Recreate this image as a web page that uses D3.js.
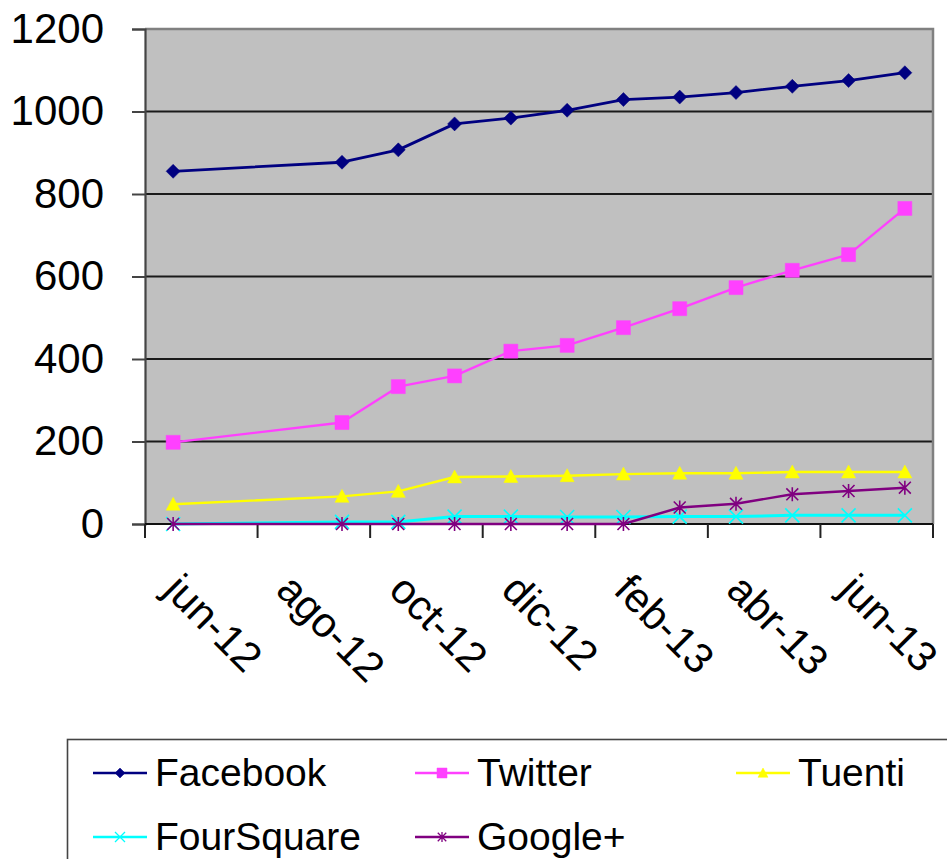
<!DOCTYPE html>
<html>
<head>
<meta charset="utf-8">
<script src="https://cdn.jsdelivr.net/npm/d3@7"></script>
<style>
  html, body { margin: 0; padding: 0; background: #fff; }
  svg { display: block; }
  text { font-family: "Liberation Sans", Arial, sans-serif; fill: #000; }
</style>
</head>
<body>
<svg id="chart" width="947" height="859"></svg>
<script>
// ---- data ----
const months = ["jun-12","jul-12","ago-12","sep-12","oct-12","nov-12","dic-12",
                "ene-13","feb-13","mar-13","abr-13","may-13","jun-13","jul-13"];
const dates = ["jun-12","sep-12","oct-12","nov-12","dic-12","ene-13","feb-13",
               "mar-13","abr-13","may-13","jun-13","jul-13"];
const tickLabels = ["jun-12","ago-12","oct-12","dic-12","feb-13","abr-13","jun-13"];
const yTicks = [0, 200, 400, 600, 800, 1000, 1200];

const facebook   = [855, 877, 907, 970, 984, 1003, 1029, 1035, 1046, 1061, 1075, 1094];
const twitter    = [198, 246, 333, 359, 419, 433, 476, 522, 573, 615, 653, 765];
const tuenti     = [48, 67, 79, 114, 115, 117, 121, 123, 123, 126, 126, 126];
const foursquare = [0, 5, 5, 18, 18, 17, 17, 18, 18, 21, 21, 21];
const googleplus = [0, 0, 0, 0, 0, 0, 0, 40, 49, 72, 80, 88];

const seriesNames  = ["Facebook", "Twitter", "Tuenti", "FourSquare", "Google+"];
const seriesValues = [facebook, twitter, tuenti, foursquare, googleplus];

// ---- styles ----
const colors  = ["#000080", "#FF40FF", "#FFFF00", "#00FFFF", "#800080"];
const markers = ["diamond", "square", "triangle", "x", "star"];
const widths  = [2.8, 2.4, 2.4, 3, 2.4];

function markerPath(type, r) {
  switch (type) {
    case "diamond":  return `M0,${-r}L${r},0L0,${r}L${-r},0Z`;
    case "square":   return `M${-r},${-r}H${r}V${r}H${-r}Z`;
    case "triangle": return `M0,${-r}L${r},${r*0.85}L${-r},${r*0.85}Z`;
    case "x":        return `M${-r},${-r}L${r},${r}M${-r},${r}L${r},${-r}`;
    case "star":     return `M${-r*0.85},${-r*0.85}L${r*0.85},${r*0.85}M${-r*0.85},${r*0.85}L${r*0.85},${-r*0.85}M0,${-r}L0,${r}`;
  }
}
const filled = t => t === "diamond" || t === "square" || t === "triangle";

// ---- layout ----
const svg = d3.select("#chart");
const L = 145, R = 933, T = 29, B = 524;

const x = d3.scaleBand().domain(months).range([L, R]).paddingInner(0).paddingOuter(0);
const y = d3.scaleLinear().domain([0, 1200]).range([B, T]);
const cx = d => x(d) + x.bandwidth() / 2;

// plot background
svg.append("rect").attr("x", L).attr("y", T).attr("width", R - L).attr("height", B - T)
  .attr("fill", "#C0C0C0");

// gridlines
svg.append("g").selectAll("line").data(yTicks.filter(v => v > 0 && v < 1200)).join("line")
  .attr("x1", L).attr("x2", R).attr("y1", d => y(d)).attr("y2", d => y(d))
  .attr("stroke", "#1a1a1a").attr("stroke-width", 2);

// border top/right
svg.append("path")
  .attr("d", `M${L},${y(1200)}H${R}V${B}`)
  .attr("fill", "none").attr("stroke", "#808080").attr("stroke-width", 2.5);

// y axis
const yAxis = d3.axisLeft(y).tickValues(yTicks).tickSize(13).tickPadding(28).tickFormat(d3.format("d"));
const gy = svg.append("g").attr("transform", `translate(${L},0)`).call(yAxis);
gy.select(".domain").attr("stroke", "#444").attr("stroke-width", 2.2);
gy.selectAll(".tick line").attr("stroke", "#444").attr("stroke-width", 2);
gy.selectAll(".tick text").style("font-size", "42px")
  .style("font-family", '"Liberation Sans", Arial, sans-serif').attr("fill", "#000");

// x axis line
svg.append("line").attr("x1", L).attr("x2", R).attr("y1", B).attr("y2", B)
  .attr("stroke", "#111").attr("stroke-width", 2.2);

// x ticks (every 2 months at band start, plus right end)
const tickPositions = tickLabels.map(d => x(d)).concat([R]);
svg.append("g").selectAll("line").data(tickPositions).join("line")
  .attr("x1", d => d).attr("x2", d => d).attr("y1", B).attr("y2", B + 14)
  .attr("stroke", "#222").attr("stroke-width", 2);

// x labels rotated 45deg
svg.append("g").selectAll("text").data(tickLabels).join("text")
  .attr("transform", d => `translate(${x(d) + 17},${592}) rotate(45)`)
  .attr("text-anchor", "start")
  .style("font-size", "42px")
  .text(d => d);

// series
const line = d3.line().x((d, i) => cx(dates[i])).y(d => y(d));
seriesValues.forEach((vals, si) => {
  const g = svg.append("g");
  g.append("path").datum(vals).attr("d", line)
    .attr("fill", "none").attr("stroke", colors[si]).attr("stroke-width", widths[si])
    .attr("stroke-linejoin", "round");
  g.selectAll("path.m").data(vals).join("path").attr("class", "m")
    .attr("transform", (d, i) => `translate(${cx(dates[i])},${y(d)})`)
    .attr("d", markerPath(markers[si], 7))
    .attr("fill", filled(markers[si]) ? colors[si] : "none")
    .attr("stroke", colors[si])
    .attr("stroke-width", filled(markers[si]) ? 0.5 : 1.6);
});

// legend
svg.append("rect").attr("x", 67.5).attr("y", 739.5).attr("width", 900).attr("height", 200)
  .attr("fill", "#fff").attr("stroke", "#444").attr("stroke-width", 1.6);

const legendPos = [[93, 773], [415, 773], [736, 773], [93, 837], [415, 837]];
seriesNames.forEach((name, si) => {
  const [lx, ly] = legendPos[si];
  const g = svg.append("g").attr("transform", `translate(${lx},${ly})`);
  g.append("line").attr("x1", 0).attr("x2", 54).attr("y1", 0).attr("y2", 0)
    .attr("stroke", colors[si]).attr("stroke-width", 2.4);
  g.append("path").attr("transform", "translate(27,0)")
    .attr("d", markerPath(markers[si], 5))
    .attr("fill", filled(markers[si]) ? colors[si] : "none")
    .attr("stroke", colors[si]).attr("stroke-width", filled(markers[si]) ? 0.5 : 1.3);
  g.append("text").attr("x", 62).attr("y", 13).style("font-size", "39px").text(name);
});
</script>
</body>
</html>
